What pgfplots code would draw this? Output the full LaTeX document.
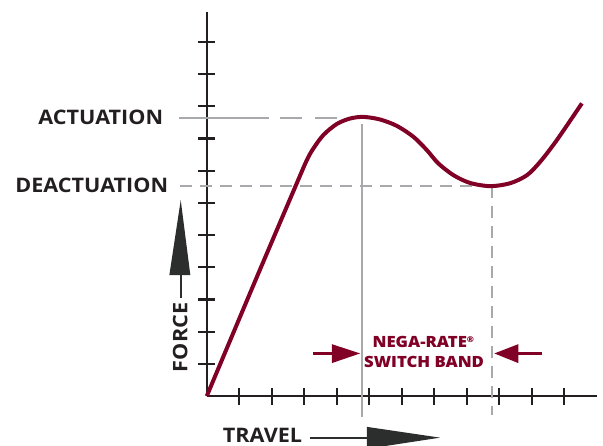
\documentclass[border=0pt]{standalone}
\usepackage{pgfplots}
\pgfplotsset{compat=1.18}
\usepackage{fontspec}
\setmainfont{Open Sans}
\newfontfamily\labelfont[FakeStretch=1.08]{Open Sans Bold}

\definecolor{maroon}{HTML}{800026}
\definecolor{guide}{HTML}{A7A9AC}
\definecolor{axisdark}{HTML}{231F20}
\definecolor{arrowdark}{HTML}{2B2E2D}

\begin{document}
\begin{tikzpicture}
  \begin{axis}[
      x=32.5pt, y=32.2pt,
      xmin=0, xmax=12,
      ymin=0, ymax=11.93,
      axis lines=left,
      axis line style={-, line width=2.2pt, color=axisdark},
      xtick={1,...,11}, ytick={1,...,11},
      xticklabels={}, yticklabels={},
      tick align=center,
      major tick length=17pt,
      every tick/.style={line width=2.2pt, color=axisdark},
      clip=false,
    ]
    % guide lines
    \addplot[guide, line width=2pt] coordinates {(-0.84,8.64) (1.90,8.64)};
    \addplot[guide, line width=2pt, dash pattern=on 21.7pt off 13.3pt] coordinates {(2.255,8.64) (4.0,8.64)};
    \addplot[guide, line width=2pt] coordinates {(4.77,8.45) (4.77,-0.64)};
    \addplot[guide, line width=2pt, dash pattern=on 12pt off 8pt] coordinates {(-0.82,6.53) (8.79,6.53)};
    \addplot[guide, line width=2pt, dash pattern=on 12pt off 8pt] coordinates {(8.79,6.53) (8.79,-0.59)};

    % force-travel curve
    \addplot[maroon, line width=4pt, smooth] coordinates {
      (0,0) (1.5,3.60) (2.77,6.61) (3.08,7.33) (3.28,7.69) (3.59,8.11)
      (4.00,8.45) (4.41,8.62) (4.82,8.67) (5.33,8.59) (5.85,8.39)
      (6.36,8.05) (6.77,7.64) (7.12,7.23) (7.59,6.86) (8.10,6.62)
      (8.72,6.52) (9.33,6.61) (9.85,6.86) (10.26,7.28) (10.77,7.95) (11.54,9.09)};

    \coordinate (O) at (axis cs:0,0);
    \coordinate (bl) at (axis cs:-6.36,-1.52);
    \coordinate (tr) at (axis cs:12.19,12.30);
  \end{axis}

  % annotations, in picture pixels (origin top left)
  \coordinate (P0) at ([xshift=-206.7pt,yshift=396pt]O);
  \begin{scope}[shift={(P0)}, x=1pt, y=-1pt]
    \fontsize{20}{24}\labelfont
    \node[anchor=east, inner sep=0pt, text=axisdark] at (163.3,117.7) {ACTUATION};
    \node[anchor=east, inner sep=0pt, text=axisdark] at (168.3,185.7) {DEACTUATION};
    \node[rotate=90, inner sep=0pt, text=axisdark] at (180.3,337.3) {FORCE};
    \node[anchor=west, inner sep=0pt, text=axisdark] at (222.7,435) {TRAVEL};

    % FORCE arrow
    \draw[arrowdark, line width=2pt] (180.7,298) -- (180.7,274);
    \fill[arrowdark] (169.3,275) -- (180.7,200) -- (190.3,275) -- cycle;
    % TRAVEL arrow
    \draw[arrowdark, line width=2pt] (310,437.7) -- (367.7,437.7);
    \fill[arrowdark] (366.7,426.7) -- (440,437.5) -- (366.7,448.7) -- cycle;

    % switch band
    \node[inner sep=0pt, text=maroon, font=\fontsize{15.5}{19}\selectfont\bfseries] at (423.5,342.3) {NEGA-RATE\textsuperscript{\fontsize{8}{8}\selectfont\textregistered}};
    \node[inner sep=0pt, text=maroon, font=\fontsize{15.5}{19}\selectfont\bfseries] at (424,361.7) {SWITCH BAND};
    \draw[maroon, line width=2.5pt] (312.7,353.3) -- (332.7,353.3);
    \fill[maroon] (331.7,344) -- (360,353.3) -- (331.7,363) -- cycle;
    \draw[maroon, line width=2.5pt] (517.3,353.3) -- (541.7,353.3);
    \fill[maroon] (518.3,344) -- (494.3,353.3) -- (518.3,363) -- cycle;
  \end{scope}

  \pgfresetboundingbox
  \useasboundingbox (bl) rectangle (tr);
\end{tikzpicture}
\end{document}
